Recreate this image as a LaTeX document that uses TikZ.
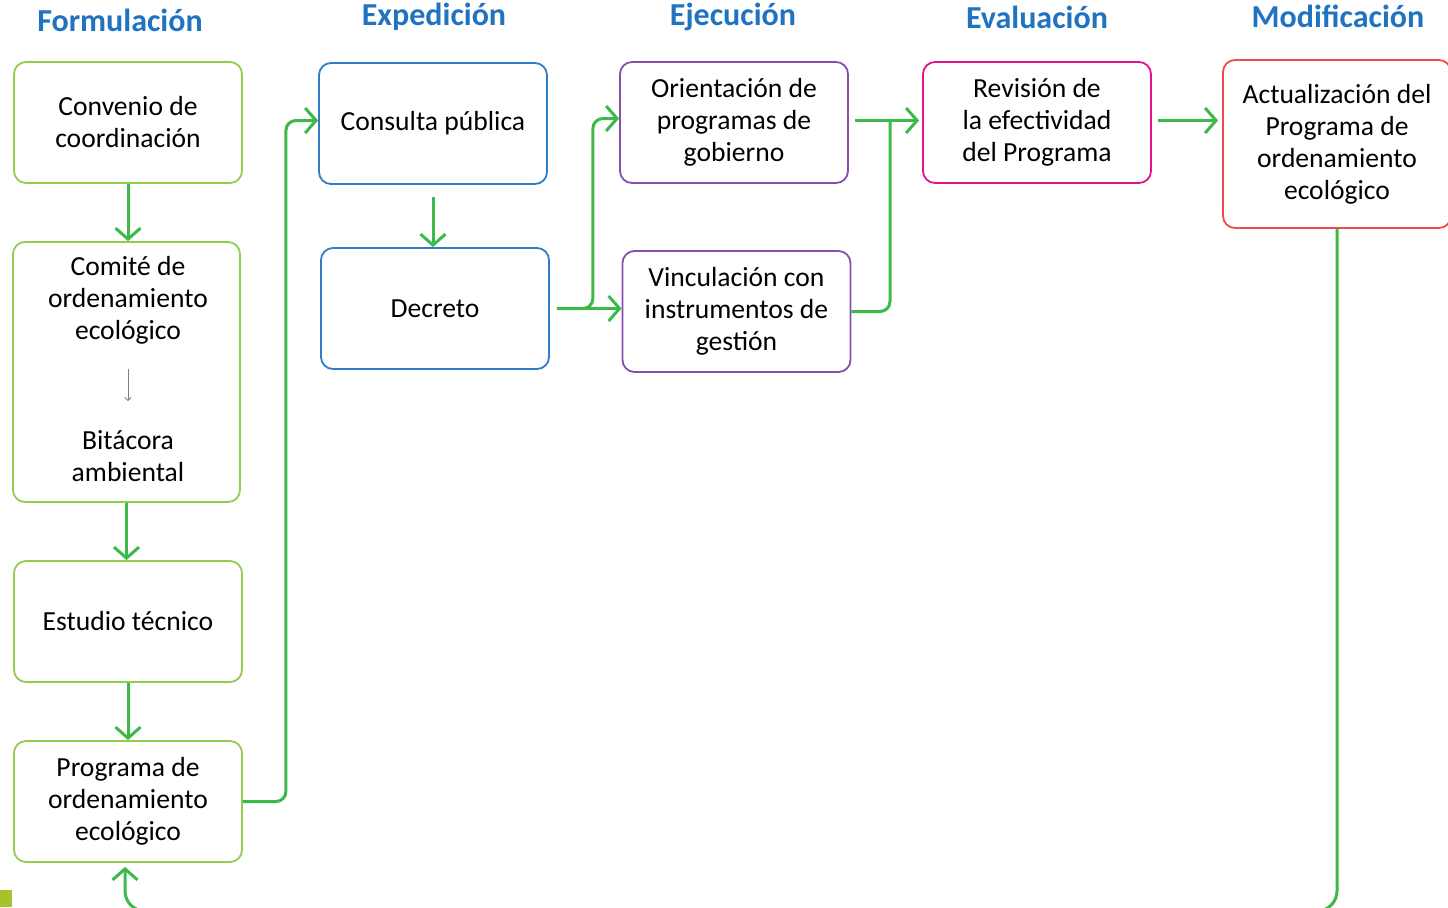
\documentclass[tikz,border=0pt]{standalone}
\usepackage{fontspec}
\setmainfont{Carlito}
\usetikzlibrary{positioning,arrows.meta,calc}

\definecolor{titleblue}{HTML}{1F73C0}
\definecolor{formgreen}{HTML}{92CE4E}
\definecolor{flowgreen}{HTML}{3DB94A}
\definecolor{expblue}{HTML}{2E7DC6}
\definecolor{ejecpurple}{HTML}{8A4CAE}
\definecolor{evalpink}{HTML}{E8118C}
\definecolor{modred}{HTML}{EE4B4B}
\definecolor{cornerolive}{HTML}{A6C32B}

\begin{document}
\begin{tikzpicture}[x=0.5pt,y=-0.5pt,
    stepbox/.style={draw, rounded corners=6pt, line width=0.9pt, minimum width=114pt, minimum height=60.5pt, align=center, inner sep=2pt, font=\fontsize{13.8}{16}\selectfont},
    phase/.style={text=titleblue, font=\bfseries\fontsize{16}{18}\selectfont},
    flow/.style={draw=flowgreen, line width=1.5pt, rounded corners=5pt, -{Straight Barb[length=5.5pt,width=12.5pt]}},
    flowline/.style={draw=flowgreen, line width=1.5pt, rounded corners=5pt}]
  \useasboundingbox (0,0) rectangle (1448,907);
  \clip (0,0) rectangle (1448,907);

  % phases
  \node[phase] (tform) at (120,20) {Formulación};
  \node[phase] (texp) at (434,17) {Expedición};
  \node[phase] (tejec) at (733,17) {Ejecución};
  \node[phase] (teval) at (1037,17) {Evaluación};
  \node[phase] (tmod) at (1338,16) {Modificación};

  % formulacion
  \node[stepbox, draw=formgreen] (conv) at (128,122.5) {Convenio de\\coordinación};
  \node[stepbox, draw=formgreen, minimum width=113.5pt, minimum height=130pt] (comite) at (126.5,372) {};
  \node[align=center, font=\fontsize{13.8}{16}\selectfont] (comtxt) at (128,300) {Comité de\\ordenamiento\\ecológico};
  \node[align=center, font=\fontsize{13.8}{16}\selectfont] (bitac) at (128,456) {Bitácora\\ambiental};
  \node[stepbox, draw=formgreen] (est) at (128,621.5) {Estudio técnico};
  \node[stepbox, draw=formgreen] (prog) at (128,801.5) {Programa de\\ordenamiento\\ecológico};

  % expedicion
  \node[stepbox, draw=expblue] (cons) at (433,123.5) {Consulta pública};
  \node[stepbox, draw=expblue] (dec) at (435,308.5) {Decreto};

  % ejecucion
  \node[stepbox, draw=ejecpurple] (orient) at (734,122.5) {Orientación de\\programas de\\gobierno};
  \node[stepbox, draw=ejecpurple] (vinc) at (736.5,311.5) {Vinculación con\\instrumentos de\\gestión};

  % evaluacion
  \node[stepbox, draw=evalpink] (rev) at (1037,122.5) {Revisión de\\la efectividad\\del Programa};

  % modificacion
  \node[stepbox, draw=modred, minimum height=84pt] (act) at (1337,144) {Actualización del\\Programa de\\ordenamiento\\ecológico};

  \fill[cornerolive] (0,890) rectangle (12,907);

  % connectors
  \draw[flow] (conv.south) -- (conv.south |- comite.north);
  \draw[gray, line width=0.4pt, -{Straight Barb[length=1.5pt,width=3pt]}] (comtxt.south) ++(0,18) -- ++(0,32);
  \draw[flow] (comite.south) -- (comite.south |- est.north);
  \draw[flow] (est.south) -- (prog.north);
  \draw[flow] (prog.east) -- ++(43,0) |- ($(cons.west)+(0,-3)$);
  \draw[flow, shorten <=6pt] (cons.south) -- (cons.south |- dec.north);
  \draw[flow, shorten <=7pt] (dec.east) -- (dec.east -| vinc.west);
  \draw[flow] ($(dec.east)+(7,0)$) -- ++(36,0) |- ($(orient.west)+(0,-4)$);
  \draw[flow, shorten <=3pt] ($(orient.east)+(0,-2)$) -- ($(rev.west)+(-3,-2)$);
  \coordinate (join) at (890,120.5);
  \draw[flowline] (vinc.east) -| (join);
  \draw[flow, shorten <=3pt, shorten >=2pt] ($(rev.east)+(0,-2)$) -- ($(rev.east -| act.west)+(0,-2)$);
  % back to formulacion
  \draw[flow, rounded corners=10pt] (act.south) -- (act.south |- 0,911) -| ($(prog.south)+(-3,4)$);
\end{tikzpicture}
\end{document}
